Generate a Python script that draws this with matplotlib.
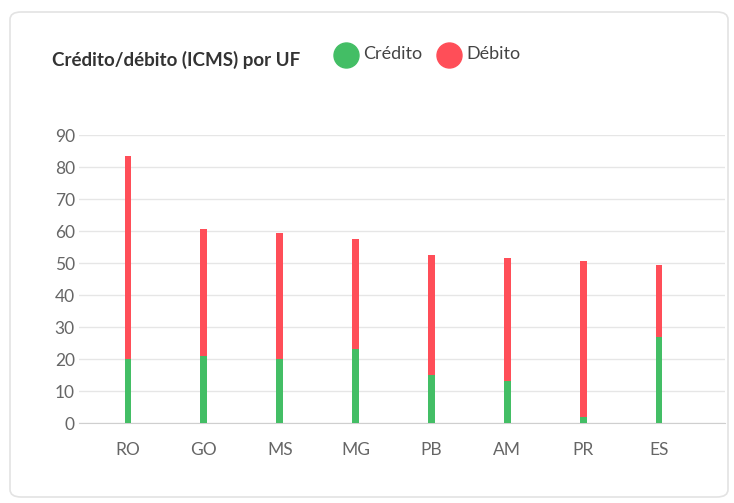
import matplotlib
matplotlib.use("Agg")
import matplotlib.pyplot as plt
from matplotlib.patches import FancyBboxPatch
from matplotlib.lines import Line2D

ufs = ["RO", "GO", "MS", "MG", "PB", "AM", "PR", "ES"]
credito = [20, 21, 20, 23, 15, 13, 2, 27]
debito = [63.5, 39.5, 39.5, 34.5, 37.5, 38.5, 48.5, 22.5]

verde = "#43be65"
vermelho = "#ff4e58"

plt.rcParams["font.family"] = ["Lato", "DejaVu Sans"]

fig = plt.figure(figsize=(7.34, 5.03), dpi=100)

# cartão com borda arredondada
card = FancyBboxPatch((10 / 734, 6 / 503), 718 / 734, 485 / 503,
                      boxstyle="round,pad=0,rounding_size=0.015",
                      transform=fig.transFigure, facecolor="white",
                      edgecolor="#e3e3e3", linewidth=1.2, zorder=-5)
fig.patches.append(card)

ax = fig.add_axes([79 / 734, 1 - 423 / 503, 646 / 734, 288 / 503])
ax.patch.set_alpha(0)
x = range(len(ufs))
ax.bar(x, credito, width=0.092, color=verde, zorder=3)
ax.bar(x, debito, bottom=credito, width=0.092, color=vermelho, zorder=3)

ax.set_ylim(0, 90)
ax.set_xlim(-0.646, 7.87)
ax.set_yticks(range(0, 91, 10))
ax.set_xticks(list(x))
ax.set_xticklabels(ufs)
ax.grid(axis="y", color="#e6e6e6", linewidth=1, zorder=0)
for s in ["top", "right", "left"]:
    ax.spines[s].set_visible(False)
ax.spines["bottom"].set_color("#cfcfcf")
ax.tick_params(axis="both", length=0, labelsize=12.5, colors="#666666")
ax.tick_params(axis="y", pad=3)
ax.tick_params(axis="x", pad=14)

fig.text(52 / 734, 1 - 60 / 503, "Crédito/débito (ICMS) por UF", fontsize=13.5,
         fontweight="bold", color="#333333", va="center", ha="left")

# legenda manual
for cx, tx, cor, rotulo in [(346, 363, verde, "Crédito"), (449, 466, vermelho, "Débito")]:
    fig.add_artist(Line2D([cx / 734], [1 - 55 / 503], transform=fig.transFigure,
                          marker="o", markersize=18, color=cor, linestyle=""))
    fig.text(tx / 734, 1 - 54 / 503, rotulo, fontsize=13, color="#444444",
             va="center", ha="left")

plt.savefig("out.png", dpi=100)
